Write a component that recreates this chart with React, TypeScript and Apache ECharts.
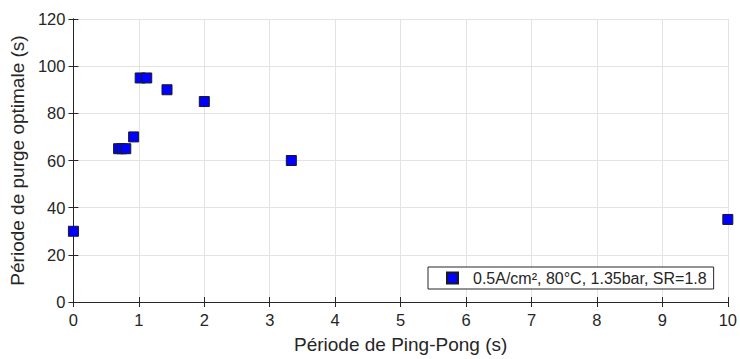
import React, { useEffect, useRef } from "react";
import * as echarts from "echarts";

const xValues = [0, 0.69, 0.74, 0.8, 0.92, 1.02, 1.12, 1.43, 2.0, 3.33, 10];
const yValues = [30, 65, 65, 65, 70, 95, 95, 90, 85, 60, 35];
const seriesName = "0.5A/cm², 80°C, 1.35bar, SR=1.8";
const xTitle = "Période de Ping-Pong (s)";
const yTitle = "Période de purge optimale (s)";

const axisColor = "#262626";
const gridColor = "#e3e3e3";
const font = "Arial, 'Liberation Sans', Helvetica, sans-serif";

export default function App() {
  const ref = useRef<HTMLDivElement>(null);
  useEffect(() => {
    if (!ref.current) return;
    const chart = echarts.init(ref.current, null, { renderer: "svg" });
    const data = xValues.map((x, i) => [x, yValues[i]]);
    const hiddenAxis = {
      axisLine: { show: true, lineStyle: { color: axisColor, width: 1 } },
      axisTick: { show: true, inside: true, length: 5, lineStyle: { color: axisColor } },
      axisLabel: { show: false },
      splitLine: { show: false },
    };
    chart.setOption({
      animation: false,
      textStyle: { fontFamily: font },
      grid: { left: 71, right: 9, top: 19, bottom: 56, containLabel: false },
      xAxis: [
        {
          type: "value",
          min: 0,
          max: 10,
          interval: 1,
          name: xTitle,
          nameLocation: "middle",
          nameGap: 33,
          nameTextStyle: { fontSize: 19, color: axisColor, fontFamily: font },
          axisLine: { show: true, onZero: false, lineStyle: { color: axisColor, width: 1 } },
          axisTick: { show: true, inside: true, length: 5, lineStyle: { color: axisColor } },
          axisLabel: { fontSize: 16.5, color: axisColor, margin: 9, fontFamily: font },
          splitLine: { show: true, lineStyle: { color: gridColor, width: 1 } },
        },
        { type: "value", position: "top", min: 0, max: 10, interval: 1, ...hiddenAxis },
      ],
      yAxis: [
        {
          type: "value",
          min: 0,
          max: 120,
          interval: 20,
          name: yTitle,
          nameLocation: "middle",
          nameGap: 40,
          nameTextStyle: { fontSize: 19, color: axisColor, fontFamily: font },
          axisLine: { show: true, onZero: false, lineStyle: { color: axisColor, width: 1 } },
          axisTick: { show: true, inside: true, length: 5, lineStyle: { color: axisColor } },
          axisLabel: { fontSize: 16.5, color: axisColor, margin: 8, fontFamily: font },
          splitLine: { show: true, lineStyle: { color: gridColor, width: 1 } },
        },
        { type: "value", position: "right", min: 0, max: 120, interval: 20, ...hiddenAxis },
      ],
      legend: {
        show: true,
        left: 428,
        top: 267,
        orient: "horizontal",
        backgroundColor: "#ffffff",
        borderColor: axisColor,
        borderWidth: 1,
        borderRadius: 0,
        padding: [3, 7, 3, 18],
        itemWidth: 11,
        itemHeight: 11,
        icon: "rect",
        textStyle: { fontSize: 16, color: axisColor, fontFamily: font, padding: [0, 0, 0, 10] },
        data: [{ name: seriesName, icon: "rect" }],
      },
      series: [
        {
          name: seriesName,
          type: "scatter",
          symbol: "rect",
          symbolSize: 10,
          data,
          clip: false,
          itemStyle: { color: "#0000ff", borderColor: "#1a1a1a", borderWidth: 1, opacity: 1 },
          z: 5,
        },
      ],
    });
    return () => chart.dispose();
  }, []);
  return <div ref={ref} style={{ width: 740, height: 359, position: "absolute", left: 0, top: 0 }} />;
}
